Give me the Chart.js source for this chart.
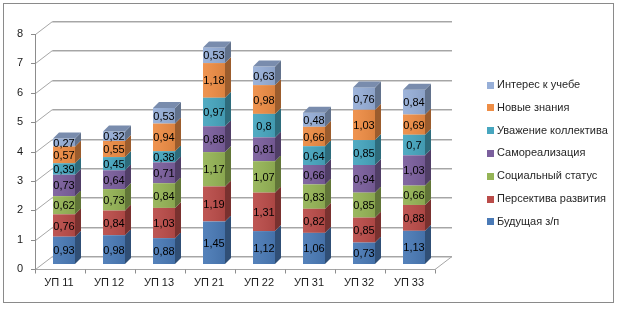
<!DOCTYPE html>
<html>
<head>
<meta charset="utf-8">
<script src="https://cdn.jsdelivr.net/npm/chart.js@4.4.1/dist/chart.umd.min.js"></script>
<style>
  html, body { margin: 0; padding: 0; background: #fff; }
  #wrap { position: relative; width: 624px; height: 309px; }
</style>
</head>
<body>
<div id="wrap"><canvas id="chart" width="624" height="309"></canvas></div>
<script>
// данные
const categories = ["УП 11", "УП 12", "УП 13", "УП 21", "УП 22", "УП 31", "УП 32", "УП 33"];
const yTicks = [0, 1, 2, 3, 4, 5, 6, 7, 8];

const budushchayaZp = [0.93, 0.98, 0.88, 1.45, 1.12, 1.06, 0.73, 1.13];
const perspektiva = [0.76, 0.84, 1.03, 1.19, 1.31, 0.82, 0.85, 0.88];
const socStatus = [0.62, 0.73, 0.84, 1.17, 1.07, 0.83, 0.85, 0.66];
const samorealizaciya = [0.73, 0.64, 0.71, 0.88, 0.81, 0.66, 0.94, 1.03];
const uvazhenie = [0.39, 0.45, 0.38, 0.97, 0.8, 0.64, 0.85, 0.7];
const novyeZnaniya = [0.57, 0.55, 0.94, 1.18, 0.98, 0.66, 1.03, 0.69];
const interes = [0.27, 0.32, 0.53, 0.53, 0.63, 0.48, 0.76, 0.84];

const seriesNames = ["Будущая з/п", "Персектива развития", "Социальный статус", "Самореализация",
                     "Уважение коллектива", "Новые знания", "Интерес к учебе"];
const seriesData = [budushchayaZp, perspektiva, socStatus, samorealizaciya, uvazhenie, novyeZnaniya, interes];
const seriesColors = ["#4A7AB6", "#BA4C49", "#95B456", "#7B5F9D", "#47A6BF", "#EE8D45", "#97AFD8"];

const FONT = "11px 'Liberation Sans', Arial, sans-serif";
const D = 6;            // глубина столбика
const WX = 17, WY = 13; // глубина стенок

function shade(hex, f) {
    const n = parseInt(hex.slice(1), 16);
    const r = Math.min(255, Math.round(((n >> 16) & 255) * f));
    const g = Math.min(255, Math.round(((n >> 8) & 255) * f));
    const b = Math.min(255, Math.round((n & 255) * f));
    return `rgb(${r},${g},${b})`;
}

const chart3d = {
    id: "chart3d",
    beforeDraw(chart) {
        const ctx = chart.ctx;
        ctx.save();
        ctx.fillStyle = "#fff";
        ctx.fillRect(0, 0, chart.width, chart.height);
        ctx.strokeStyle = "#8a8a8a";
        ctx.lineWidth = 1;
        ctx.strokeRect(3.5, 3.5, 610, 299);
        ctx.restore();
    },
    beforeDatasetsDraw(chart) {
        const ctx = chart.ctx, y = chart.scales.y, a = chart.chartArea;
        const fl = a.left - 4, fr = a.right - 4;
        ctx.save();
        ctx.lineWidth = 1;
        // сетка на стенках
        yTicks.forEach(v => {
            const yf = Math.round(y.getPixelForValue(v) + 5) + 0.5;
            const yb = Math.round(y.getPixelForValue(v) - 8) + 0.5;
            ctx.strokeStyle = "#d4d4d4";
            ctx.beginPath();
            ctx.moveTo(fl + WX, yb + 1);
            ctx.lineTo(fr + WX, yb + 1);
            ctx.stroke();
            ctx.strokeStyle = "#a6a6a6";
            ctx.beginPath();
            ctx.moveTo(fl + 0.5, yf);
            ctx.lineTo(fl + WX + 0.5, yb);
            ctx.lineTo(fr + WX, yb);
            ctx.stroke();
        });
        // пол
        const y0f = Math.round(y.getPixelForValue(0) + 5) + 0.5;
        const y0b = Math.round(y.getPixelForValue(0) - 8) + 0.5;
        ctx.strokeStyle = "#a6a6a6";
        ctx.beginPath();
        ctx.moveTo(fl, y0f);
        ctx.lineTo(fr, y0f);
        ctx.lineTo(fr + WX, y0b);
        ctx.stroke();
        // ось Y и засечки
        ctx.strokeStyle = "#8c8c8c";
        ctx.beginPath();
        ctx.moveTo(fl + 0.5, Math.round(y.getPixelForValue(8) + 5));
        ctx.lineTo(fl + 0.5, y0f);
        yTicks.forEach(v => {
            const yf = Math.round(y.getPixelForValue(v) + 5) + 0.5;
            ctx.moveTo(fl - 4, yf);
            ctx.lineTo(fl, yf);
        });
        for (let i = 0; i <= categories.length; i++) {
            const xt = Math.round(fl + i * (fr - fl) / categories.length) + 0.5;
            ctx.moveTo(xt, y0f);
            ctx.lineTo(xt, y0f + 4);
        }
        ctx.stroke();
        ctx.restore();
    },
    afterDatasetsDraw(chart) {
        const ctx = chart.ctx;
        const last = chart.data.datasets.length - 1;
        ctx.save();
        chart.data.datasets.forEach((ds, i) => {
            const meta = chart.getDatasetMeta(i);
            meta.data.forEach(bar => {
                const p = bar.getProps(["x", "y", "base", "width"], true);
                const l = p.x - p.width / 2, r = p.x + p.width / 2;
                // лёгкий градиент по лицевой грани
                const g = ctx.createLinearGradient(l, 0, r, 0);
                g.addColorStop(0, "rgba(255,255,255,0.06)");
                g.addColorStop(1, "rgba(0,0,0,0.08)");
                ctx.fillStyle = g;
                ctx.fillRect(l, p.y, p.width, p.base - p.y);
                ctx.fillStyle = shade(ds.backgroundColor, 0.65);
                ctx.beginPath();
                ctx.moveTo(r, p.y);
                ctx.lineTo(r + D, p.y - D);
                ctx.lineTo(r + D, p.base - D);
                ctx.lineTo(r, p.base);
                ctx.closePath();
                ctx.fill();
                if (i === last) {
                    ctx.fillStyle = shade(ds.backgroundColor, 0.8);
                    ctx.beginPath();
                    ctx.moveTo(l, p.y);
                    ctx.lineTo(l + D, p.y - D);
                    ctx.lineTo(r + D, p.y - D);
                    ctx.lineTo(r, p.y);
                    ctx.closePath();
                    ctx.fill();
                }
            });
        });
        // подписи значений
        ctx.font = FONT;
        ctx.fillStyle = "#000";
        ctx.textAlign = "center";
        ctx.textBaseline = "middle";
        chart.data.datasets.forEach((ds, i) => {
            chart.getDatasetMeta(i).data.forEach((bar, j) => {
                const p = bar.getProps(["x", "y", "base"], true);
                ctx.fillText(String(ds.data[j]).replace(".", ","), p.x, (p.y + p.base) / 2 + 1);
            });
        });
        ctx.restore();
    },
    afterDraw(chart) {
        const ctx = chart.ctx, x = chart.scales.x, y = chart.scales.y, a = chart.chartArea;
        const fl = a.left - 4;
        ctx.save();
        ctx.font = FONT;
        ctx.fillStyle = "#1a1a1a";
        ctx.textBaseline = "middle";
        ctx.textAlign = "right";
        yTicks.forEach(v => ctx.fillText(String(v), fl - 12, y.getPixelForValue(v) + 5));
        ctx.textAlign = "center";
        categories.forEach((c, i) => ctx.fillText(c, x.getPixelForValue(i) - 5, y.getPixelForValue(0) + 19));
        // легенда
        ctx.textAlign = "left";
        const ds = chart.data.datasets;
        for (let k = 0; k < ds.length; k++) {
            const d = ds[ds.length - 1 - k];
            const yc = 85 + k * 22.8;
            ctx.fillStyle = d.backgroundColor;
            ctx.fillRect(487, Math.round(yc - 3.5), 7, 7);
            ctx.fillStyle = "#262626";
            ctx.fillText(d.label, 497, yc);
        }
        ctx.restore();
    }
};

new Chart(document.getElementById("chart"), {
    type: "bar",
    data: {
        labels: categories,
        datasets: seriesNames.map((name, i) => ({
            label: name,
            data: seriesData[i],
            backgroundColor: seriesColors[i],
            borderWidth: 0,
            barPercentage: 0.44,
            categoryPercentage: 1
        }))
    },
    options: {
        responsive: false,
        animation: false,
        devicePixelRatio: 1,
        layout: { padding: { left: 39, right: 185, top: 29, bottom: 45 } },
        plugins: { legend: { display: false }, tooltip: { enabled: false } },
        scales: {
            x: { stacked: true, display: false },
            y: { stacked: true, display: false, min: 0, max: 8 }
        }
    },
    plugins: [chart3d]
});
</script>
</body>
</html>
